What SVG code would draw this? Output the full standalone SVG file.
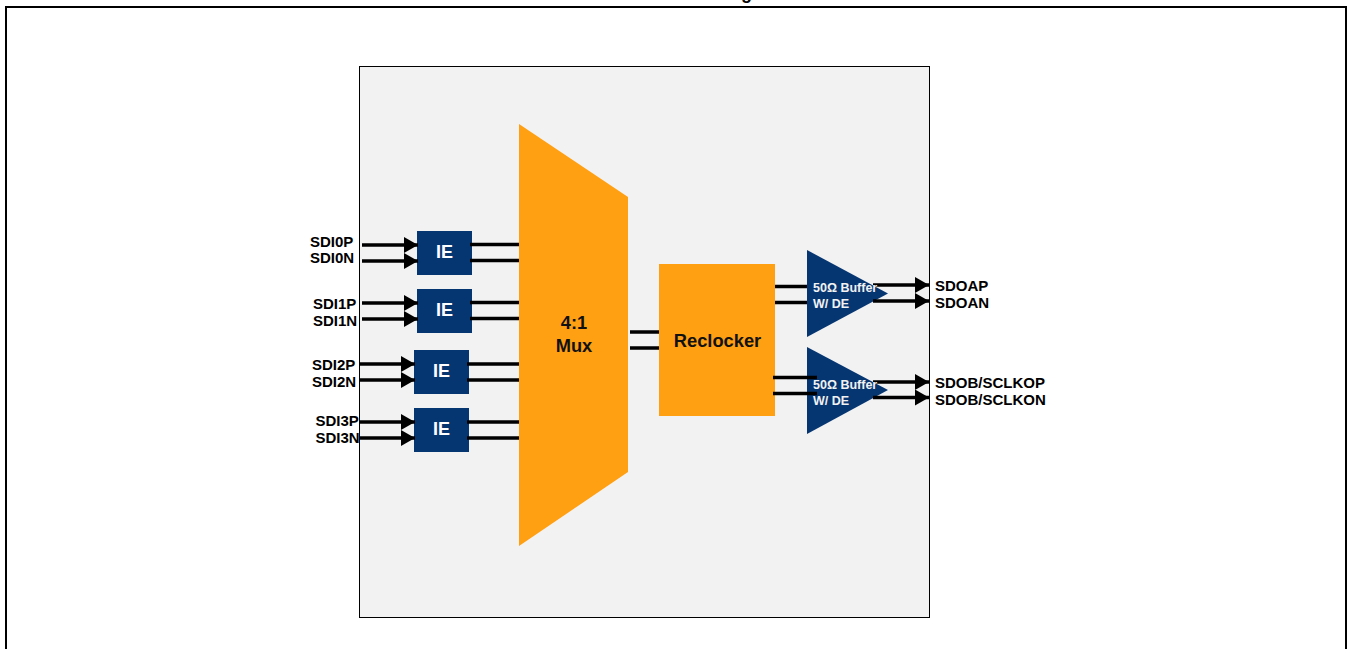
<svg xmlns="http://www.w3.org/2000/svg" width="1351" height="649" viewBox="0 0 1351 649">
<style>
.lbl{font-family:"Liberation Sans",Arial,sans-serif;font-weight:700;font-size:15px;fill:#000}
.ie{fill:#063672}
.mx{fill:#ff9f12}
.in{font-family:"Liberation Sans",Arial,sans-serif;font-weight:700;fill:#fff;font-size:18px;text-anchor:middle}
.buf{font-family:"Liberation Sans",Arial,sans-serif;font-weight:700;fill:#f2f2f2;font-size:12.500px}
.blk{font-family:"Liberation Sans",Arial,sans-serif;font-weight:700;fill:#111;font-size:18.300px;text-anchor:middle}
.w{stroke:#000;stroke-width:3.500;fill:none}
.a{stroke:#000;stroke-width:3.500;fill:none;marker-end:url(#h)}
</style>
<defs>
<marker id="h" markerUnits="userSpaceOnUse" markerWidth="14" markerHeight="16" refX="14" refY="8" orient="auto"><path d="M0 0L14 8L0 16Z" fill="#000"/></marker>
</defs>
<rect width="1351" height="649" fill="#fff"/>
<text class="lbl" x="741" y="-1" style="font-size:18px">g</text>
<path d="M6 649V7H1346V649" fill="none" stroke="#000" stroke-width="2"/>
<rect id="chip" x="359.5" y="66.5" width="570" height="551" fill="#f2f2f2" stroke="#000" stroke-width="1"/>
<g id="mux"><polygon class="mx" points="519,124 628,197 628,472 519,546"/><text class="blk" x="574" y="329">4:1</text><text class="blk" x="574" y="352">Mux</text></g>
<g id="reclocker"><rect class="mx" x="659" y="264" width="116" height="152"/><text class="blk" x="717.500" y="347">Reclocker</text></g>
<g id="ie0"><rect class="ie" x="417" y="231" width="55" height="44"/><text class="in" x="444.500" y="258">IE</text></g>
<g id="ie1"><rect class="ie" x="417" y="289" width="55" height="44"/><text class="in" x="444.500" y="316">IE</text></g>
<g id="ie2"><rect class="ie" x="414" y="350" width="55" height="44"/><text class="in" x="441.500" y="377">IE</text></g>
<g id="ie3"><rect class="ie" x="414" y="408" width="55" height="44"/><text class="in" x="441.500" y="435">IE</text></g>
<g id="buf0"><polygon class="ie" points="807,250 888,293.500 807,337"/></g>
<g id="buf1"><polygon class="ie" points="807,347 888,390 807,434"/></g>
<g id="connectors">
<path class="a" d="M362 245H418"/><path class="a" d="M362 261H418"/>
<path class="a" d="M362 303H418"/><path class="a" d="M362 319H418"/>
<path class="a" d="M359 364H415"/><path class="a" d="M359 380H415"/>
<path class="a" d="M359 422H415"/><path class="a" d="M359 438H415"/>
<path class="w" d="M470 244.500H519M470 260.500H519M470 302.500H519M470 318.500H519M467 364H519M467 380H519M467 422H519M467 438H519"/>
<path class="w" d="M630 332H659M630 348H659"/>
<path class="w" d="M775 286.500H807M775 302.500H807M773 377.500H817M773 393.500H817"/>
<path class="a" d="M873 285H929"/><path class="a" d="M873 301H929"/>
<path class="a" d="M873 382H929"/><path class="a" d="M873 397.500H929"/>
</g>
<g id="labels">
<text class="buf" x="813" y="292">50Ω Buffer</text><text class="buf" x="813" y="308">W/ DE</text>
<text class="buf" x="813" y="389">50Ω Buffer</text><text class="buf" x="813" y="405">W/ DE</text>
<text class="lbl" x="310" y="247">SDI0P</text><text class="lbl" x="310" y="263">SDI0N</text>
<text class="lbl" x="313" y="309">SDI1P</text><text class="lbl" x="313" y="326">SDI1N</text>
<text class="lbl" x="312" y="370">SDI2P</text><text class="lbl" x="312" y="387">SDI2N</text>
<text class="lbl" x="315.500" y="426">SDI3P</text><text class="lbl" x="315.500" y="443">SDI3N</text>
<text class="lbl" x="935" y="291">SDOAP</text><text class="lbl" x="935" y="308">SDOAN</text>
<text class="lbl" x="935" y="388">SDOB/SCLKOP</text><text class="lbl" x="935" y="405">SDOB/SCLKON</text>
</g>
</svg>
